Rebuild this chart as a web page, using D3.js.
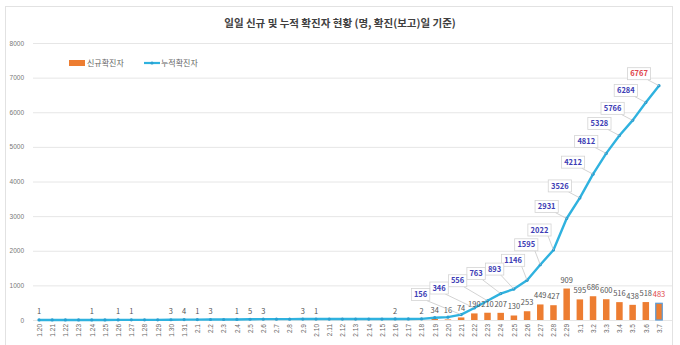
<!DOCTYPE html>
<html><head><meta charset="utf-8">
<script src="https://cdn.jsdelivr.net/npm/d3@7"></script>
<style>
html,body{margin:0;padding:0;background:#fff;}
svg{display:block;font-family:"Noto Sans CJK KR","Noto Sans",sans-serif;}
</style></head>
<body>
<svg id="chart" width="680" height="345"></svg>
<script>
const title = "일일 신규 및 누적 확진자 현황 (명, 확진(보고)일 기준)";
const seriesNames = ["신규확진자", "누적확진자"];
const dates = ["1.20","1.21","1.22","1.23","1.24","1.25","1.26","1.27","1.28","1.29","1.30","1.31",
  "2.1","2.2","2.3","2.4","2.5","2.6","2.7","2.8","2.9","2.10","2.11","2.12","2.13","2.14","2.15","2.16","2.17","2.18","2.19","2.20",
  "2.21","2.22","2.23","2.24","2.25","2.26","2.27","2.28","2.29",
  "3.1","3.2","3.3","3.4","3.5","3.6","3.7"];
const newCases = [1,0,0,0,1,0,1,1,0,0,3,4,
  1,3,0,1,5,3,0,0,3,1,0,0,0,0,0,2,0,2,34,16,
  74,190,210,207,130,253,449,427,909,
  595,686,600,516,438,518,483];
const cumulative = [1,1,1,1,2,2,3,4,4,4,7,11,
  12,15,15,16,21,24,24,24,27,28,28,28,28,28,28,30,30,32,66,82,
  156,346,556,763,893,1146,1595,2022,2931,
  3526,4212,4812,5328,5766,6284,6767];
const cumLabelFrom = "2.21";
const yTicks = [0,1000,2000,3000,4000,5000,6000,7000,8000];

(function(){
const svg = d3.select("#chart");
const mLeft = 39, mRight = 659, mTop = 43, mBottom = 320;
const x = d3.scalePoint().domain(dates).range([mLeft, mRight]);
const y = d3.scaleLinear().domain([0, 8000]).range([mBottom, mTop]);

// frame
svg.append("rect").attr("x",5.5).attr("y",6.5).attr("width",667).attr("height",345)
  .attr("fill","#fff").attr("stroke","#e2e2e2");

// title
svg.append("text").attr("x",340).attr("y",27).attr("text-anchor","middle")
  .attr("font-size",10.5).attr("font-weight","bold").attr("fill","#404040").text(title);

// grid + y axis
const yAxis = d3.axisLeft(y).tickValues(yTicks).tickSize(-(672-33)).tickPadding(8).tickFormat(d3.format("d"));
const gy = svg.append("g").attr("transform","translate(33,0)").call(yAxis);
gy.select(".domain").remove();
gy.selectAll(".tick line").attr("stroke","#e6e6e6").attr("stroke-width",1);
gy.selectAll(".tick text").attr("font-size",6.5).attr("fill","#777").attr("x",-9);

// x axis labels
const xAxis = d3.axisBottom(x).tickSize(0).tickPadding(0);
const gx = svg.append("g").attr("transform",`translate(0,${mBottom})`).call(xAxis);
gx.select(".domain").remove();
gx.selectAll(".tick text").attr("font-size",6.5).attr("fill","#666")
  .attr("transform","rotate(-90)").attr("text-anchor","end")
  .attr("x",-4).attr("y",0).attr("dy","0.35em");

// bars
const bw = 6.5;
const last = dates[dates.length-1];
svg.append("g").selectAll("rect").data(dates).join("rect")
  .attr("x", d => x(d) - bw/2)
  .attr("y", (d,i) => y(newCases[i]))
  .attr("width", bw)
  .attr("height", (d,i) => y(0) - y(newCases[i]))
  .attr("fill", "#ed7d31")
  .attr("stroke", d => d === last ? "#5b9bd5" : "none")
  .attr("stroke-width", 1.2);

// line
const line = d3.line().x(d => x(d)).y((d,i) => y(cumulative[i]));
svg.append("path").datum(dates).attr("d", line)
  .attr("fill","none").attr("stroke","#2fb2df").attr("stroke-width",2.4).attr("stroke-linejoin","round");
svg.append("g").selectAll("circle").data(dates).join("circle")
  .attr("cx", d => x(d)).attr("cy", (d,i) => y(cumulative[i])).attr("r",1.6)
  .attr("fill","#2a9fd0");

// bar labels
svg.append("g").selectAll("text").data(dates.map((d,i)=>({d, v:newCases[i]})).filter(o => o.v > 0))
  .join("text")
  .attr("x", o => x(o.d)).attr("y", o => y(o.v) - 6)
  .attr("text-anchor","middle").attr("font-size",7.5)
  .attr("fill", o => o.d === last ? "#e0464b" : "#555").text(o => o.v);

// cumulative labels with callouts
const startIdx = dates.indexOf(cumLabelFrom);
const labs = [];
let prev = null;
for (let i = dates.length - 1; i >= startIdx; i--) {
  const v = cumulative[i];
  const px = x(dates[i]), py = y(v);
  const steep = v > 2500;
  let cx = px + (steep ? -20 : -14);
  let cy = py + (steep ? -12 : -20);
  if (prev && Math.abs(cy - prev.cy) < 12) cx = Math.min(cx, prev.cx - 18.5);
  const o = {i, v, px, py, cx, cy, d: dates[i]};
  labs.push(o); prev = o;
}
const gl = svg.append("g");
labs.forEach(o => {
  const w = String(o.v).length * 4.8 + 4, h = 12;
  gl.append("line").attr("x1", o.cx + w/2 - 3).attr("y1", o.cy + h/2)
    .attr("x2", o.px).attr("y2", o.py).attr("stroke","#c8c8c8").attr("stroke-width",0.8);
  gl.append("rect").attr("x", o.cx - w/2).attr("y", o.cy - h/2).attr("width", w).attr("height", h)
    .attr("fill","#fff").attr("stroke","#d4d4d4").attr("stroke-width",0.8);
  gl.append("text").attr("x", o.cx).attr("y", o.cy).attr("dy","0.36em")
    .attr("text-anchor","middle").attr("font-size",7.5).attr("font-weight","bold")
    .attr("fill", o.d === last ? "#e0464b" : "#3d3db5").text(o.v);
});

// legend
const lg = svg.append("g");
lg.append("rect").attr("x",69).attr("y",60).attr("width",16).attr("height",6).attr("fill","#ed7d31");
lg.append("text").attr("x",87).attr("y",63).attr("dy","0.35em").attr("font-size",8).attr("fill","#666").text(seriesNames[0]);
lg.append("line").attr("x1",144).attr("x2",160).attr("y1",63).attr("y2",63).attr("stroke","#2fb2df").attr("stroke-width",2.2);
lg.append("circle").attr("cx",152).attr("cy",63).attr("r",1.6).attr("fill","#2a9fd0");
lg.append("text").attr("x",161).attr("y",63).attr("dy","0.35em").attr("font-size",8).attr("fill","#666").text(seriesNames[1]);
})();
</script>
</body></html>
